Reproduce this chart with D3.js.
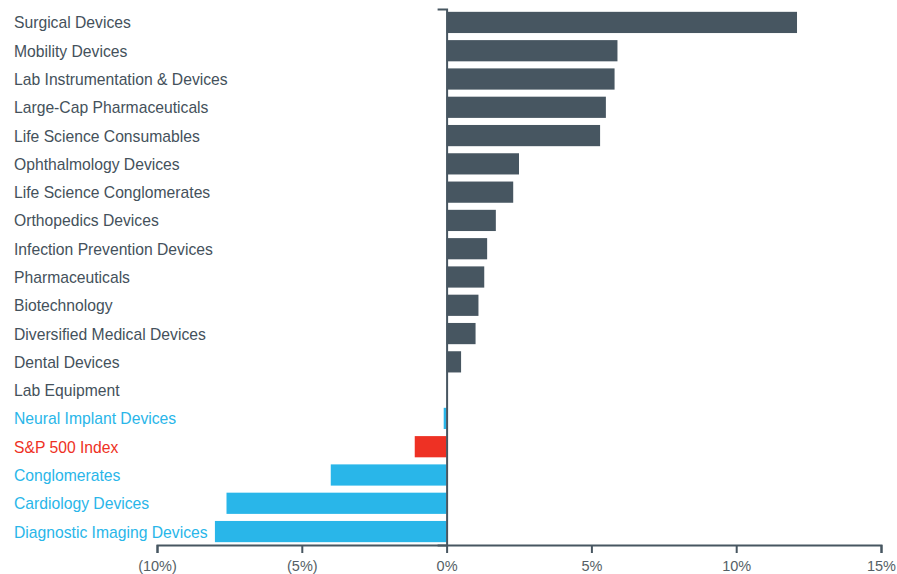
<!DOCTYPE html>
<html>
<head>
<meta charset="utf-8">
<script src="https://cdn.jsdelivr.net/npm/d3@7"></script>
<style>
  body { margin: 0; background: #fff; }
  svg text { font-family: "Liberation Sans", Arial, sans-serif; }
</style>
</head>
<body>
<svg id="chart" width="897" height="574"></svg>
<script>
const CATEGORIES = [
  "Surgical Devices", "Mobility Devices", "Lab Instrumentation & Devices",
  "Large-Cap Pharmaceuticals", "Life Science Consumables", "Ophthalmology Devices",
  "Life Science Conglomerates", "Orthopedics Devices", "Infection Prevention Devices",
  "Pharmaceuticals", "Biotechnology", "Diversified Medical Devices", "Dental Devices",
  "Lab Equipment", "Neural Implant Devices", "S&P 500 Index", "Conglomerates",
  "Cardiology Devices", "Diagnostic Imaging Devices"
];
const VALUES = [12.1, 5.9, 5.8, 5.5, 5.3, 2.5, 2.3, 1.7, 1.4, 1.3, 1.1, 1.0, 0.5, 0, -0.1, -1.1, -4.0, -7.6, -8.0];
const BENCHMARK = "S&P 500 Index";
const X_TICKS = [-10, -5, 0, 5, 10, 15];

const DARK = "#475661";
const BLUE = "#29b6e9";
const RED = "#ee3124";
const colorOf = (name, v) => name === BENCHMARK ? RED : (v < 0 ? BLUE : DARK);

const svg = d3.select("#chart");

const xScale = d3.scaleLinear().domain([-10, 15]).range([157, 881]);
const yScale = d3.scaleBand().domain(CATEGORIES).range([9, 545]).paddingInner(0.25).paddingOuter(0.1);

const data = CATEGORIES.map((c, i) => ({ name: c, value: VALUES[i] }));

svg.selectAll(".bar")
  .data(data)
  .enter()
  .append("rect")
  .classed("bar", true)
  .attr("x", (d) => xScale(Math.min(0, d.value)))
  .attr("width", (d) => Math.abs(xScale(d.value) - xScale(0)))
  .attr("y", (d) => yScale(d.name))
  .attr("height", yScale.bandwidth())
  .attr("fill", (d) => colorOf(d.name, d.value));

svg.selectAll(".label")
  .data(data)
  .enter()
  .append("text")
  .classed("label", true)
  .attr("x", 14)
  .attr("y", (d) => yScale(d.name) + yScale.bandwidth() / 2 + 0.5)
  .attr("dy", "0.35em")
  .attr("font-size", 15.7)
  .attr("fill", (d) => d.name === BENCHMARK ? RED : (d.value < 0 ? BLUE : "#44515b"))
  .text((d) => d.name);

// zero line
const yAxis = svg.append("g")
  .attr("transform", `translate(${xScale(0)},0)`)
  .call(d3.axisLeft(yScale).tickValues([]).tickSizeOuter(9));
yAxis.select(".domain").attr("stroke", DARK).attr("stroke-width", 2);

// bottom axis
const xAxis = svg.append("g")
  .attr("transform", "translate(0,545)")
  .call(d3.axisBottom(xScale)
    .tickValues(X_TICKS)
    .tickSize(8)
    .tickSizeOuter(8)
    .tickFormat((d) => d < 0 ? `(${Math.abs(d)}%)` : `${d}%`));
xAxis.select(".domain").attr("stroke", DARK).attr("stroke-width", 2);
xAxis.selectAll(".tick line").attr("stroke", DARK).attr("stroke-width", 2);
xAxis.selectAll(".tick text")
  .attr("fill", "#555f66")
  .attr("font-size", 14.5)
  .attr("y", 16);
</script>
</body>
</html>
